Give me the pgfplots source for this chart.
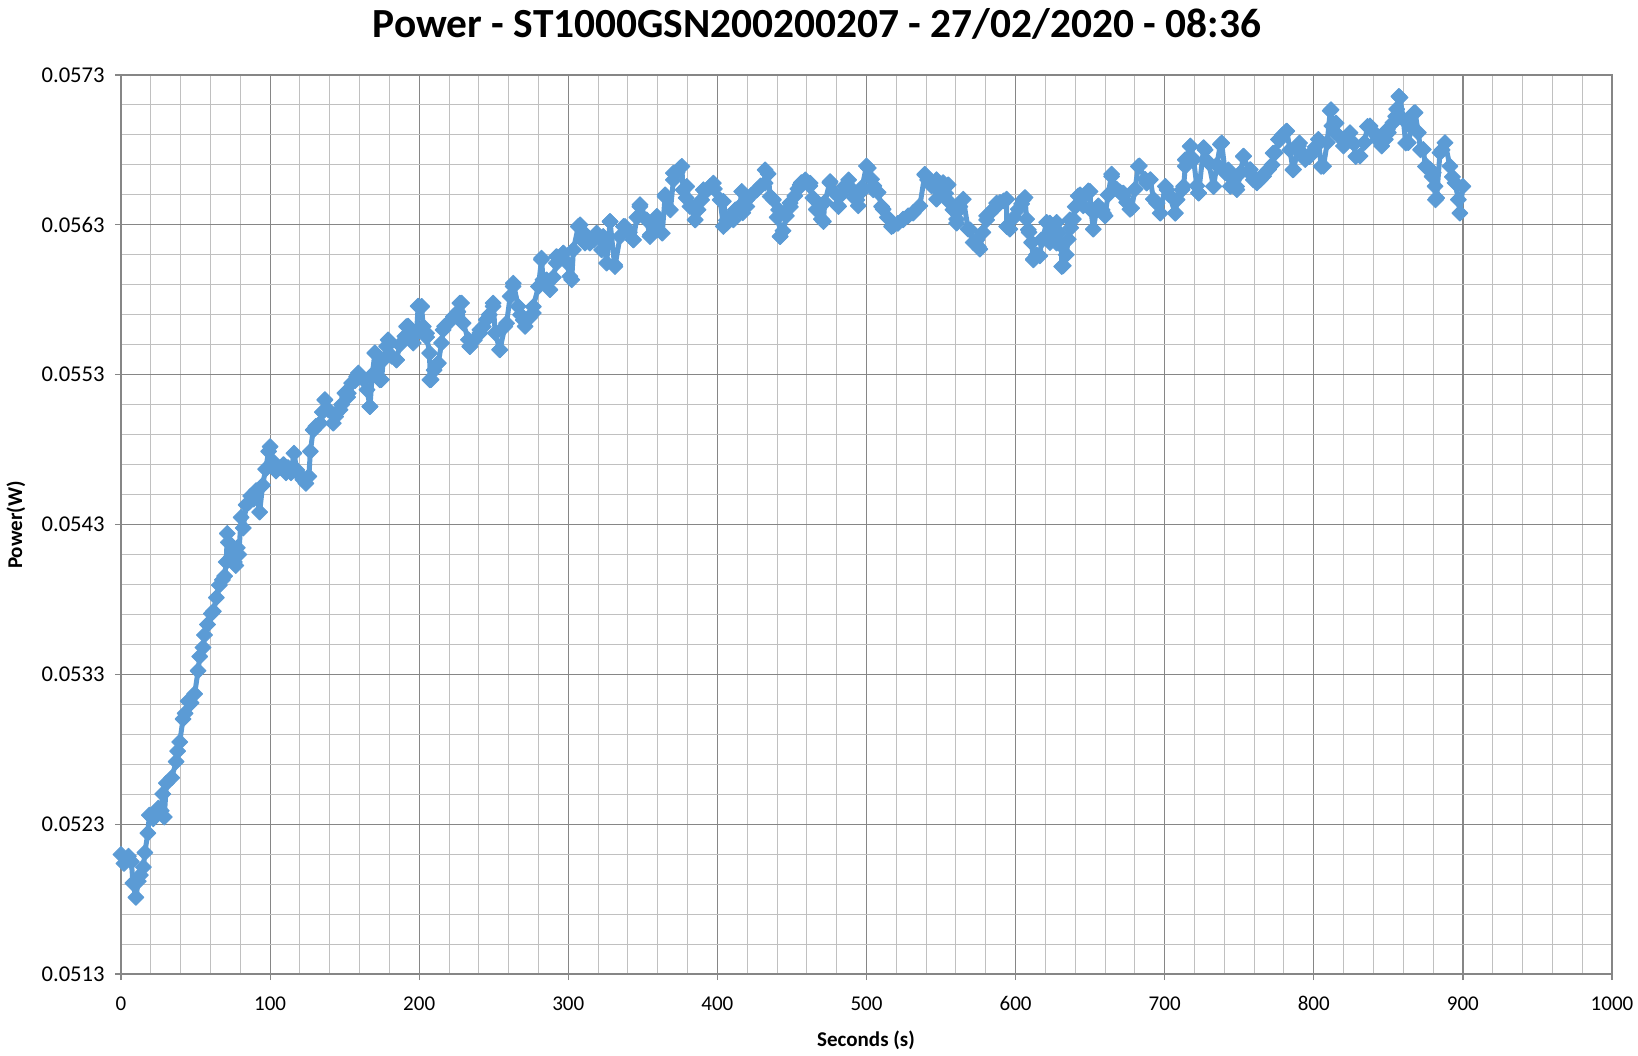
\documentclass[border=0pt]{standalone}
\usepackage{fontspec}
\setmainfont{Carlito}
\usepackage{pgfplots}
\usepackage{pgfplotstable}
\pgfplotsset{compat=1.18}
\definecolor{series}{HTML}{5B9BD5}
\definecolor{majgrid}{HTML}{868686}
\definecolor{mingrid}{HTML}{C0C0C0}
\pgfplotstableread[row sep=\\]{
x y\\
0 0.052098\\ 2 0.052038\\ 5 0.052086\\ 7 0.052050\\ 8 0.051907\\ 10 0.051812\\ 11.6 0.051919\\ 13 0.051960\\
15 0.052014\\ 16 0.052110\\ 18 0.052240\\ 19 0.052360\\ 21.6 0.052336\\ 23 0.052380\\ 25 0.052407\\ 27 0.052390\\
28 0.052502\\ 29 0.052348\\ 30.5 0.052574\\ 34 0.052610\\ 37 0.052717\\ 38 0.052788\\ 39.4 0.052848\\ 41.6 0.053002\\
43 0.053040\\ 45 0.053121\\ 47 0.053110\\ 49.4 0.053169\\ 51.7 0.053324\\ 52.8 0.053419\\ 55 0.053479\\ 56 0.053562\\
58 0.053633\\ 60.6 0.053705\\ 62 0.053720\\ 64 0.053812\\ 66 0.053895\\ 68 0.053930\\ 69.5 0.053955\\ 70.6 0.054050\\
71.3 0.054240\\ 72 0.054181\\ 74 0.054086\\ 76 0.054050\\ 77 0.054026\\ 78 0.054145\\ 79 0.054100\\ 80.6 0.054348\\
82 0.054276\\ 84 0.054431\\ 86 0.054450\\ 87 0.054490\\ 89 0.054470\\ 90.6 0.054526\\ 93 0.054383\\ 95 0.054562\\
97 0.054669\\ 99 0.054788\\ 100 0.054820\\ 100.7 0.054693\\ 102 0.054720\\ 104 0.054657\\ 107 0.054681\\ 109 0.054700\\
110.7 0.054645\\ 112 0.054680\\ 114 0.054645\\ 116 0.054776\\ 117.9 0.054664\\ 119.6 0.054633\\ 122 0.054600\\ 124 0.054574\\
126 0.054621\\ 127 0.054788\\ 129 0.054932\\ 130.7 0.054955\\ 133.5 0.054976\\ 135 0.055050\\ 136.8 0.055133\\ 139 0.055066\\
142.4 0.054976\\ 144 0.055020\\ 146.9 0.055066\\ 148 0.055100\\ 150.2 0.055177\\ 152 0.055150\\ 154.7 0.055244\\ 157 0.055260\\
159.2 0.055311\\ 162.5 0.055267\\ 165 0.055200\\ 167 0.055088\\ 168.5 0.055300\\ 170.3 0.055445\\ 173.7 0.055378\\ 174.7 0.055267\\
176 0.055400\\ 178.1 0.055490\\ 180.3 0.055511\\ 181.5 0.055423\\ 184.8 0.055400\\ 187 0.055500\\ 190.4 0.055556\\ 192.6 0.055624\\
196 0.055511\\ 199.3 0.055758\\ 201.6 0.055756\\ 202.7 0.055622\\ 205 0.055550\\ 207 0.055444\\ 208 0.055267\\ 210 0.055330\\
212.8 0.055378\\ 215 0.055511\\ 217 0.055622\\ 220 0.055650\\ 223 0.055689\\ 226 0.055720\\ 228.4 0.055778\\ 229.5 0.055644\\
233 0.055533\\ 234 0.055489\\ 237 0.055530\\ 240.7 0.055578\\ 243 0.055620\\ 245 0.055667\\ 247 0.055700\\ 249.6 0.055756\\
251 0.055578\\ 254 0.055467\\ 257.5 0.055622\\ 261 0.055822\\ 263 0.055889\\ 266.4 0.055756\\ 268 0.055700\\ 271 0.055622\\
274 0.055680\\ 276.5 0.055711\\ 280 0.055889\\ 282 0.056067\\ 283 0.055933\\ 287.7 0.055867\\ 290 0.055950\\ 292 0.056044\\
294 0.056080\\ 296.6 0.056111\\ 299 0.056050\\ 301 0.055956\\ 303.4 0.056133\\ 306.7 0.056289\\ 310 0.056200\\ 312 0.056230\\
314.5 0.056178\\ 317 0.056200\\ 319 0.056244\\ 322.4 0.056133\\ 325.7 0.056044\\ 328 0.056322\\ 331 0.056033\\ 334.7 0.056222\\
338 0.056289\\ 341 0.056250\\ 343.6 0.056200\\ 346 0.056350\\ 348 0.056422\\ 352.6 0.056333\\ 355 0.056233\\ 357 0.056300\\
359.4 0.056356\\ 363 0.056244\\ 365 0.056500\\ 368.5 0.056400\\ 370.5 0.056600\\ 373 0.056650\\ 375 0.056680\\ 377 0.056533\\
379 0.056480\\ 381.6 0.056422\\ 385 0.056333\\ 387 0.056400\\ 389.4 0.056467\\ 392 0.056520\\ 395 0.056556\\ 398 0.056540\\
401.8 0.056467\\ 404 0.056289\\ 406 0.056330\\ 408.5 0.056356\\ 412 0.056400\\ 415 0.056422\\ 417 0.056380\\ 419.7 0.056467\\
423 0.056500\\ 426.4 0.056533\\ 429 0.056560\\ 432 0.056578\\ 434 0.056640\\ 437.6 0.056467\\ 440 0.056350\\ 442 0.056222\\
444 0.056260\\ 446.3 0.056360\\ 449 0.056420\\ 451.9 0.056493\\ 454 0.056540\\ 456.4 0.056582\\ 459 0.056600\\ 462 0.056560\\
464 0.056480\\ 466.4 0.056404\\ 469.8 0.056338\\ 472 0.056450\\ 475.4 0.056582\\ 478 0.056520\\ 481 0.056427\\ 483 0.056500\\
485.5 0.056560\\ 488 0.056600\\ 490 0.056538\\ 492 0.056480\\ 494.5 0.056427\\ 497 0.056550\\ 500 0.056693\\ 503.4 0.056604\\
505 0.056560\\ 507.8 0.056516\\ 511.2 0.056404\\ 514 0.056350\\ 517.9 0.056293\\ 521 0.056310\\ 524.6 0.056338\\ 528 0.056360\\
531.3 0.056382\\ 535.8 0.056427\\ 539.1 0.056638\\ 541 0.056600\\ 543.6 0.056560\\ 547 0.056471\\ 549 0.056520\\ 551.4 0.056582\\
553 0.056510\\ 555.9 0.056449\\ 558 0.056400\\ 560.4 0.056338\\ 562 0.056400\\ 564.9 0.056471\\ 568.2 0.056271\\ 571.6 0.056182\\
574 0.056200\\ 576 0.056138\\ 578 0.056250\\ 580.5 0.056360\\ 583 0.056380\\ 585 0.056404\\ 587 0.056420\\ 589.5 0.056449\\
592 0.056460\\ 594 0.056471\\ 596.2 0.056271\\ 599 0.056350\\ 601.8 0.056404\\ 604 0.056440\\ 606.3 0.056482\\ 607.4 0.056338\\
609 0.056250\\ 610.7 0.056182\\ 611.9 0.056071\\ 614 0.056100\\ 616.3 0.056093\\ 618 0.056200\\ 620.8 0.056316\\ 623 0.056182\\
625 0.056250\\ 627.5 0.056316\\ 629 0.056250\\ 630.9 0.056160\\ 632 0.056027\\ 634 0.056100\\ 635.3 0.056204\\ 637 0.056280\\
638.7 0.056338\\ 640 0.056420\\ 642 0.056493\\ 645.4 0.056427\\ 648.8 0.056527\\ 650.5 0.056400\\ 652.1 0.056271\\ 655.5 0.056427\\
658 0.056400\\ 660 0.056360\\ 662 0.056500\\ 664.4 0.056638\\ 667.8 0.056538\\ 670 0.056520\\ 672.3 0.056493\\ 674.5 0.056450\\
676.7 0.056404\\ 680.1 0.056538\\ 683 0.056693\\ 686.8 0.056604\\ 690.4 0.056602\\ 692.4 0.056471\\ 694.9 0.056445\\ 697 0.056378\\
700.4 0.056557\\ 703 0.056500\\ 707 0.056378\\ 708.3 0.056468\\ 712.7 0.056557\\ 713.8 0.056691\\ 717.2 0.056826\\ 719.4 0.056736\\
721.5 0.056560\\ 722.8 0.056513\\ 726.1 0.056815\\ 729.5 0.056714\\ 732.8 0.056557\\ 735 0.056700\\ 737.3 0.056837\\ 740.6 0.056647\\
744 0.056557\\ 746 0.056600\\ 748.4 0.056535\\ 751 0.056650\\ 752.9 0.056759\\ 757.4 0.056669\\ 759.5 0.056600\\ 761.8 0.056580\\
764 0.056600\\ 766.3 0.056624\\ 769.6 0.056669\\ 772 0.056700\\ 774.1 0.056781\\ 776.3 0.056870\\ 779 0.056900\\ 781.9 0.056926\\
784 0.056800\\ 786.4 0.056669\\ 789.7 0.056826\\ 792 0.056780\\ 794.2 0.056736\\ 796.5 0.056760\\ 798.7 0.056781\\ 801 0.056820\\
803.1 0.056870\\ 806.5 0.056691\\ 809 0.056850\\ 811 0.057061\\ 812.1 0.056960\\ 814 0.056920\\ 816.5 0.056893\\ 819.9 0.056826\\
822 0.056870\\ 824.3 0.056915\\ 827 0.056840\\ 831 0.056759\\ 834 0.056850\\ 837.7 0.056960\\ 840 0.056920\\ 842.2 0.056893\\
845.5 0.056826\\ 848 0.056870\\ 850 0.056915\\ 853 0.056980\\ 855.6 0.057072\\ 857.8 0.057150\\ 860 0.057005\\ 863.4 0.056848\\
865.5 0.056950\\ 867.9 0.057049\\ 870.1 0.056915\\ 873.4 0.056803\\ 875.7 0.056691\\ 878 0.056670\\ 880.1 0.056647\\ 881.3 0.056557\\
882.4 0.056479\\ 884.6 0.056781\\ 886 0.056800\\ 888 0.056848\\ 891.3 0.056691\\ 893 0.056620\\ 894.7 0.056580\\ 897 0.056468\\
898 0.056378\\ 900 0.056557\\
}\dataA
\pgfplotstableread[row sep=\\]{
x y\\
128.9 0.054931\\ 136.7 0.055131\\ 144.5 0.055042\\ 152.4 0.055176\\ 158 0.055287\\ 166.9 0.055087\\ 170.3 0.055443\\ 173.6 0.055265\\
179.2 0.055532\\ 184.8 0.055398\\ 191.5 0.055621\\ 198.2 0.055576\\ 201.6 0.055754\\ 204.9 0.055576\\ 207.2 0.055265\\ 212.7 0.055376\\
216.1 0.055599\\ 227.3 0.055777\\ 234 0.055487\\ 240.7 0.055599\\ 249.6 0.055777\\ 254.1 0.055465\\ 258.6 0.055643\\ 263.1 0.055910\\
269.8 0.055665\\ 276.5 0.055754\\ 282.1 0.056077\\ 285.4 0.055933\\ 292.1 0.056088\\
296.7 0.056111\\ 302.3 0.055933\\ 307.9 0.056300\\ 311.2 0.056178\\ 316.8 0.056200\\ 323.5 0.056222\\ 328 0.056322\\ 331.3 0.056022\\
337 0.056289\\ 343.6 0.056200\\ 348.1 0.056434\\ 354.8 0.056222\\ 359.3 0.056267\\ 364.9 0.056489\\ 370.5 0.056645\\ 376.1 0.056690\\
379.4 0.056556\\ 382.8 0.056422\\ 385 0.056333\\ 390.6 0.056534\\ 397.3 0.056578\\ 404 0.056456\\ 406.3 0.056311\\ 410.7 0.056333\\
416.3 0.056523\\ 419.7 0.056422\\ 432 0.056667\\ 435.4 0.056489\\ 441 0.056400\\ 442.1 0.056222\\ 448.7 0.056445\\ 455.5 0.056567\\
462.2 0.056578\\ 466.6 0.056400\\ 471.1 0.056322\\ 475.6 0.056589\\ 481.2 0.056422\\ 486.8 0.056567\\ 493.5 0.056467\\
495.6 0.056512\\ 501.2 0.056679\\ 504.5 0.056534\\ 510.1 0.056422\\ 516.8 0.056289\\ 524.6 0.056333\\ 531.3 0.056378\\ 539.1 0.056634\\
546.9 0.056601\\ 554.8 0.056567\\ 560.4 0.056311\\ 562.6 0.056422\\ 569.4 0.056267\\ 575 0.056155\\ 580.5 0.056333\\ 587.3 0.056445\\
594 0.056289\\ 605.1 0.056467\\ 608.5 0.056267\\ 611.9 0.056066\\ 617.4 0.056200\\ 623 0.056311\\ 627.5 0.056178\\ 630.9 0.056022\\
636.4 0.056333\\ 643.2 0.056500\\ 649.9 0.056523\\ 654.3 0.056400\\ 658.8 0.056378\\ 664.4 0.056623\\ 672.2 0.056512\\ 677.8 0.056411\\
682.3 0.056690\\ 687.9 0.056578\\ 694.6 0.056445\\
701.6 0.056534\\ 707.1 0.056378\\ 711.6 0.056534\\ 713.8 0.056734\\ 717.1 0.056823\\ 722.7 0.056512\\ 727.1 0.056801\\ 732.7 0.056556\\
738.2 0.056846\\ 742.7 0.056667\\ 748.2 0.056556\\ 752.7 0.056756\\ 757.1 0.056645\\ 762.7 0.056601\\ 767.1 0.056645\\ 772.7 0.056779\\
777.1 0.056868\\ 781.6 0.056923\\ 786 0.056667\\ 790.4 0.056846\\ 797.1 0.056756\\ 804.9 0.056690\\ 811.6 0.057068\\ 814.9 0.056979\\
821.6 0.056846\\ 828.2 0.056756\\ 836 0.056957\\ 842.7 0.056868\\ 849.3 0.056935\\ 854.9 0.057024\\ 857.1 0.057157\\ 861.6 0.056846\\
867.1 0.057046\\ 871.6 0.056801\\ 874.9 0.056690\\ 879.3 0.056623\\ 881.6 0.056467\\
}\dataB
\pgfplotstablevertcat{\dataA}{\dataB}
\pgfplotstablesort[sort key=x]{\powerdata}{\dataA}
\begin{document}
\begin{tikzpicture}[x=1pt,y=1pt]
\useasboundingbox (0,0) rectangle (819,527.5);
\begin{axis}[
  at={(60.5pt,40.5pt)}, anchor=south west,
  scale only axis, width=745.5pt, height=449.5pt,
  xmin=0, xmax=1000, ymin=0.0513, ymax=0.0573,
  scaled y ticks=false, scaled x ticks=false,
  xtick={0,100,200,300,400,500,600,700,800,900,1000},
  xticklabels={0,100,200,300,400,500,600,700,800,900,1000},
  ytick={0.0513,0.0523,0.0533,0.0543,0.0553,0.0563,0.0573},
  yticklabels={0.0513,0.0523,0.0533,0.0543,0.0553,0.0563,0.0573},
  minor x tick num=4, minor y tick num=4,
  grid=both,
  major grid style={majgrid, line width=0.6pt},
  minor grid style={mingrid, line width=0.5pt},
  axis line style={majgrid, line width=0.6pt},
  tick style={majgrid, line width=0.6pt},
  tick align=outside, major tick length=3pt, minor tick length=0pt,
  xtick pos=lower, ytick pos=left,
  xticklabel style={font=\fontsize{10.5}{12}\selectfont, inner sep=0pt, yshift=-8pt},
  yticklabel style={font=\fontsize{11.3}{13}\selectfont, inner sep=0pt, xshift=-5pt},
]
\addplot[series, line width=2.5pt, line join=round, mark=square*, mark size=2.8pt,
  mark options={rotate=45, solid, line width=0.5pt, fill=series, draw=series}]
table[x=x, y=y] {\powerdata};
\end{axis}
\node[anchor=base, font=\bfseries\fontsize{20.7}{25}\selectfont] at (408.5,508.7) {Power - ST1000GSN200200207 - 27/02/2020 - 08:36};
\node[anchor=base, font=\bfseries\fontsize{10.5}{12}\selectfont] at (433,4.5) {Seconds (s)};
\node[anchor=center, rotate=90, font=\bfseries\fontsize{10.5}{12}\selectfont] at (8,265) {Power(W)};
\end{tikzpicture}
\end{document}
